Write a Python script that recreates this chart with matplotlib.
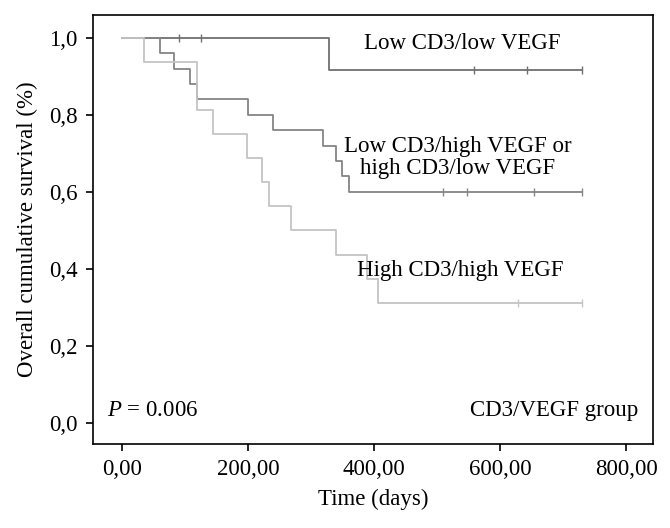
import matplotlib
matplotlib.use("Agg")
import matplotlib.pyplot as plt
from matplotlib.ticker import FuncFormatter

plt.rcParams['font.family'] = ['Liberation Serif', 'DejaVu Serif']
plt.rcParams['mathtext.fontset'] = 'custom'
plt.rcParams['mathtext.it'] = 'Liberation Serif:italic'
plt.rcParams['mathtext.rm'] = 'Liberation Serif'

# low CD3 / low VEGF (n=12)
t_ll = [0, 328]
s_ll = [1.0, 11 / 12]
cens_ll_t = [91, 125, 559, 642, 729]
end_ll = 729

# low/high or high/low (n=25)
t_mid = [0, 61, 83, 109, 119, 200, 239, 319, 339, 349, 360]
s_mid = [1.0, 0.96, 0.92, 0.88, 0.84, 0.80, 0.76, 0.72, 0.68, 0.64, 0.60]
cens_mid_t = [510, 547, 653, 729]
end_mid = 729

# high CD3 / high VEGF (n=16)
t_hh = [0, 36, 119, 145, 198, 223, 233, 268, 339, 388, 406]
s_hh = [1.0, 15 / 16, 13 / 16, 12 / 16, 11 / 16, 10 / 16, 9 / 16, 8 / 16, 7 / 16, 6 / 16, 5 / 16]
cens_hh_t = [628, 729]
end_hh = 729


def km(ax, t, s, cens, end, color):
    xs = list(t) + [end]
    ys = list(s) + [s[-1]]
    ax.step(xs, ys, where='post', color=color, lw=1.3)
    # censored cases at the last survival value before them
    cy = []
    for c in cens:
        v = s[0]
        for ti, si in zip(t, s):
            if ti <= c:
                v = si
        cy.append(v)
    ax.plot(cens, cy, ls='none', marker='|', ms=6, mew=1.0, color=color)


fig = plt.figure(figsize=(6.7, 5.28), dpi=100)
ax = fig.add_axes([0.1388, 0.1591, 0.8358, 0.8125])

km(ax, t_ll, s_ll, cens_ll_t, end_ll, '#707070')
km(ax, t_mid, s_mid, cens_mid_t, end_mid, '#858585')
km(ax, t_hh, s_hh, cens_hh_t, end_hh, '#c4c4c4')

ax.set_xlim(-45.5, 842)
ax.set_ylim(-0.054, 1.059)
ax.set_xticks([0, 200, 400, 600, 800])
ax.set_yticks([0, 0.2, 0.4, 0.6, 0.8, 1.0])
ax.xaxis.set_major_formatter(FuncFormatter(lambda v, p: f"{v:.2f}".replace('.', ',')))
ax.yaxis.set_major_formatter(FuncFormatter(lambda v, p: f"{v:.1f}".replace('.', ',')))
ax.tick_params(direction='out', length=5, width=1.2, labelsize=16.5, pad=6)
for sp in ax.spines.values():
    sp.set_linewidth(1.2)

fs = 16.5
ax.set_xlabel('Time (days)', fontsize=fs, labelpad=6)
ax.set_ylabel('Overall cumulative survival (%)', fontsize=fs, labelpad=8)

ax.text(539, 0.985, 'Low CD3/low VEGF', fontsize=fs, ha='center', va='center')
ax.text(533, 0.689, 'Low CD3/high VEGF or\nhigh CD3/low VEGF', fontsize=fs,
        ha='center', va='center', linespacing=1.05)
ax.text(536, 0.395, 'High CD3/high VEGF', fontsize=fs, ha='center', va='center')
ax.text(-23, 0.034, r'$P$ = 0.006', fontsize=fs, ha='left', va='center')
ax.text(818, 0.034, 'CD3/VEGF group', fontsize=fs, ha='right', va='center')

fig.savefig('out.png', dpi=100)
